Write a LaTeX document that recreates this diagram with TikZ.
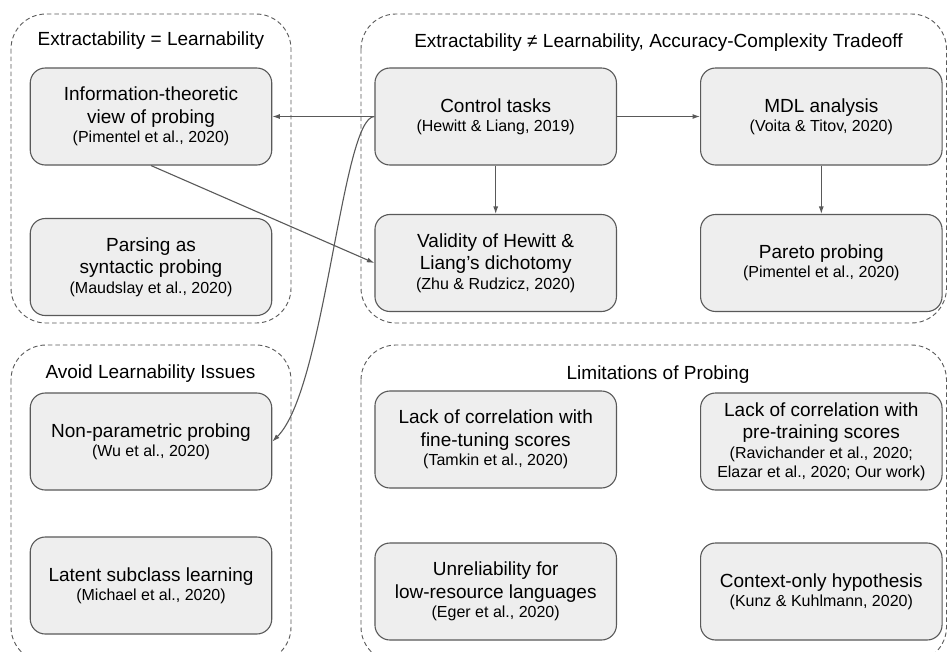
\documentclass[tikz,border=0pt]{standalone}
\usepackage{fontspec}
\setmainfont{Liberation Sans}
\usetikzlibrary{arrows.meta}
\definecolor{boxfill}{HTML}{EEEEEE}
\definecolor{boxline}{HTML}{595959}
\definecolor{grpline}{HTML}{5A5A5A}
\newcommand{\citeline}[1]{{\fontsize{16}{19}\selectfont #1}}
\begin{document}
\begin{tikzpicture}[x=1pt,y=-1pt,
  box/.style={draw=boxline, fill=boxfill, line width=1.1pt, rounded corners=15pt,
    minimum width=241.5pt, minimum height=97pt, align=center, inner sep=0pt,
    font=\fontsize{19}{22.7}\selectfont},
  grp/.style={draw=grpline, line width=0.9pt, dash pattern=on 4.5pt off 3pt, rounded corners=35pt},
  grptitle/.style={font=\fontsize{19}{22.7}\selectfont, anchor=base, inner sep=0pt},
  arr/.style={draw=boxline, line width=1.1pt, -{Latex[length=7.5pt,width=5pt]}}]
\useasboundingbox (0,0) rectangle (948,651);
\fill[white] (0,0) rectangle (948,651);

% groups
\draw[grp] (11,14) rectangle (291,323);
\draw[grp] (361,14) rectangle (946.5,323);
\draw[grp] (11,345) rectangle (291,662);
\draw[grp] (361,345) rectangle (946.5,662);

\node[grptitle] (t1) at (151,45.7) {Extractability = Learnability};
\node[grptitle] (t2) at (658.5,47.5) {Extractability ≠ Learnability, Accuracy-Complexity Tradeoff};
\node[grptitle] (t3) at (150.5,378.3) {Avoid Learnability Issues};
\node[grptitle] (t4) at (658,379.3) {Limitations of Probing};

% boxes
\node[box] (info) at (151,116.5) {Information-theoretic\\view of probing\\[-3.5pt]\citeline{(Pimentel et al., 2020)}};
\node[box] (parsing) at (151,267) {Parsing as\\syntactic probing\\[-3.5pt]\citeline{(Maudslay et al., 2020)}};
\node[box] (control) at (495.7,116.5) {Control tasks\\[-3.5pt]\citeline{(Hewitt \& Liang, 2019)}};
\node[box] (mdl) at (821.3,116.5) {MDL analysis\\[-3.5pt]\citeline{(Voita \& Titov, 2020)}};
\node[box] (validity) at (495.7,263) {Validity of Hewitt \&\\Liang’s dichotomy\\[-3.5pt]\citeline{(Zhu \& Rudzicz, 2020)}};
\node[box] (pareto) at (821.3,263) {Pareto probing\\[-3.5pt]\citeline{(Pimentel et al., 2020)}};
\node[box] (nonpar) at (151,441.5) {Non-parametric probing\\[-3.5pt]\citeline{(Wu et al., 2020)}};
\node[box] (latent) at (151,585.5) {Latent subclass learning\\[-3.5pt]\citeline{(Michael et al., 2020)}};
\node[box] (lackft) at (495.7,439.5) {Lack of correlation with\\fine-tuning scores\\[-3.5pt]\citeline{(Tamkin et al., 2020)}};
\node[box] (lackpt) at (821.3,441.5) {Lack of correlation with\\pre-training scores\\[-3.5pt]\citeline{(Ravichander et al., 2020;}\\[-3.5pt]\citeline{Elazar et al., 2020; Our work)}};
\node[box] (unrel) at (495.7,591.5) {Unreliability for\\low-resource languages\\[-3.5pt]\citeline{(Eger et al., 2020)}};
\node[box] (ctx) at (821.3,591.5) {Context-only hypothesis\\[-3.5pt]\citeline{(Kunz \& Kuhlmann, 2020)}};

% connectors
\draw[arr] (control.west) -- (info.east);
\draw[arr] (control.east) -- (mdl.west);
\draw[arr] (control.south) -- (validity.north);
\draw[arr] (mdl.south) -- (pareto.north);
\draw[arr] (info.south) -- (validity.west);
\draw[arr] (control.west) .. controls (342,116.5) and (325,390) .. (nonpar.east);
\end{tikzpicture}
\end{document}
